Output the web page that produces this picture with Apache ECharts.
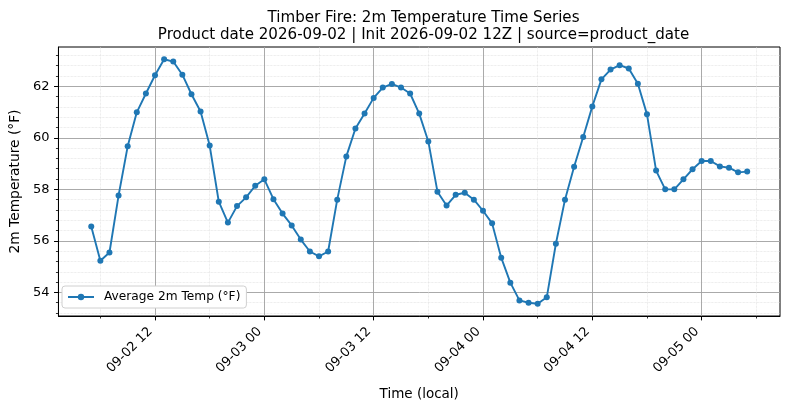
<!DOCTYPE html>
<html><head><meta charset="utf-8">
<script src="https://cdn.jsdelivr.net/npm/echarts@6/dist/echarts.min.js"></script>
<style>html,body{margin:0;padding:0;background:#fff}#c{width:790px;height:409px}</style>
</head><body><div id="c"></div>
<script>
// hours since 2026-09-02 00:00 local
const hoursSinceSep02 = [5,6,7,8,9,10,11,12,13,14,15,16,17,18,19,20,21,22,23,24,
  25,26,27,28,29,30,31,32,33,34,35,36,37,38,39,40,41,42,43,44,45,46,47,48,49,50,
  51,52,53,54,55,56,57,58,59,60,61,62,63,64,65,66,67,68,69,70,71,72,73,74,75,76,77];
const tempF = [56.56,55.23,55.55,57.76,59.67,60.99,61.72,62.43,63.05,62.96,62.45,61.69,61.02,59.70,57.52,56.71,57.35,57.69,58.14,58.39,
  57.62,57.06,56.60,56.05,55.59,55.40,55.59,57.60,59.28,60.36,60.94,61.55,61.95,62.09,61.95,61.72,60.94,59.86,57.91,57.37,
  57.79,57.87,57.60,57.17,56.68,55.35,54.38,53.69,53.60,53.56,53.81,55.89,57.60,58.88,60.03,61.22,62.27,62.65,62.82,62.69,
  62.10,60.91,58.73,58.00,58.00,58.39,58.78,59.10,59.10,58.89,58.84,58.66,58.69];
// x ticks in half-day units (12 h) since 2026-09-02 00:00
const xTickHalfDays = [1,2,3,4,5,6];
const xTickLabels = ['09-02 12','09-03 00','09-03 12','09-04 00','09-04 12','09-05 00'];
const yTicks = [54,56,58,60,62];
const seriesName = 'Average 2m Temp (°F)';
const titleLines = ['Timber Fire: 2m Temperature Time Series',
  'Product date 2026-09-02 | Init 2026-09-02 12Z | source=product_date'];

const FONT = 'DejaVu Sans';
const xs = hoursSinceSep02.map(h => h / 12);
const xmin0 = Math.min(...xs), xmax0 = Math.max(...xs);
const ymin0 = Math.min(...tempF), ymax0 = Math.max(...tempF);
const xm = (xmax0 - xmin0) * 0.05, ym = (ymax0 - ymin0) * 0.05;
const data = xs.map((x, i) => [x, tempF[i]]);

const chart = echarts.init(document.getElementById('c'), null, {renderer: 'canvas'});
chart.setOption({
  animation: false,
  backgroundColor: '#fff',
  title: {
    text: titleLines.join('\n'),
    left: 418.5, top: 4, textAlign: 'center',
    textStyle: {fontFamily: FONT, fontSize: 15.1, fontWeight: 'normal', color: '#000', lineHeight: 17.5}
  },
  legend: {
    data: [seriesName],
    left: 62, top: 286,
    padding: [5, 6, 5, 5],
    itemWidth: 26, itemHeight: 8,
    backgroundColor: '#fff', borderColor: '#d0d0d0', borderWidth: 1, borderRadius: 3,
    textStyle: {fontFamily: FONT, fontSize: 12.2, color: '#000', padding: [0, 0, 0, 5]}
  },
  grid: {left: 57, right: 10, top: 47, bottom: 93, show: true, borderColor: '#000', borderWidth: 1, backgroundColor: 'transparent'},
  xAxis: {
    type: 'value', min: xmin0 - xm, max: xmax0 + xm, minInterval: 1, maxInterval: 1,
    name: 'Time (local)', nameLocation: 'middle', nameGap: 71,
    nameTextStyle: {fontFamily: FONT, fontSize: 13.5, color: '#000'},
    axisLine: {show: true, lineStyle: {color: '#000', width: 1}},
    axisTick: {show: true, length: 4.4, customValues: xTickHalfDays, lineStyle: {color: '#000', width: 1}},
    minorTick: {show: true, splitNumber: 2, length: 2.5, lineStyle: {color: '#000', width: 0.8}},
    axisLabel: {
      customValues: xTickHalfDays, rotate: 45, margin: 18, verticalAlign: 'bottom',
      fontFamily: FONT, fontSize: 13, color: '#000',
      formatter: v => { const i = xTickHalfDays.findIndex(t => Math.abs(t - v) < 1e-6); return i >= 0 ? xTickLabels[i] : ''; }
    },
    splitLine: {show: true, lineStyle: {color: '#a0a0a0', width: 0.9}},
    minorSplitLine: {show: true, lineStyle: {color: '#dcdcdc', width: 0.7, type: 'dotted'}}
  },
  yAxis: {
    type: 'value', min: ymin0 - ym, max: ymax0 + ym, minInterval: 2, maxInterval: 2,
    name: '2m Temperature (°F)', nameLocation: 'middle', nameGap: 34, nameRotate: 90,
    nameTextStyle: {fontFamily: FONT, fontSize: 13.8, color: '#000'},
    axisLine: {show: true, lineStyle: {color: '#000', width: 1}},
    axisTick: {show: true, length: 4.4, customValues: yTicks, lineStyle: {color: '#000', width: 1}},
    minorTick: {show: true, splitNumber: 5, length: 2.5, lineStyle: {color: '#000', width: 0.8}},
    axisLabel: {
      customValues: yTicks, margin: 9,
      fontFamily: FONT, fontSize: 13, color: '#000',
      formatter: v => String(Math.round(v))
    },
    splitLine: {show: true, lineStyle: {color: '#a0a0a0', width: 0.9}},
    minorSplitLine: {show: true, lineStyle: {color: '#dcdcdc', width: 0.7, type: 'dotted'}}
  },
  series: [{
    name: seriesName, type: 'line', data: data,
    symbol: 'circle', symbolSize: 6, showSymbol: true,
    lineStyle: {color: '#1f77b4', width: 1.9},
    itemStyle: {color: '#1f77b4'},
    z: 5
  }]
});
</script></body></html>
